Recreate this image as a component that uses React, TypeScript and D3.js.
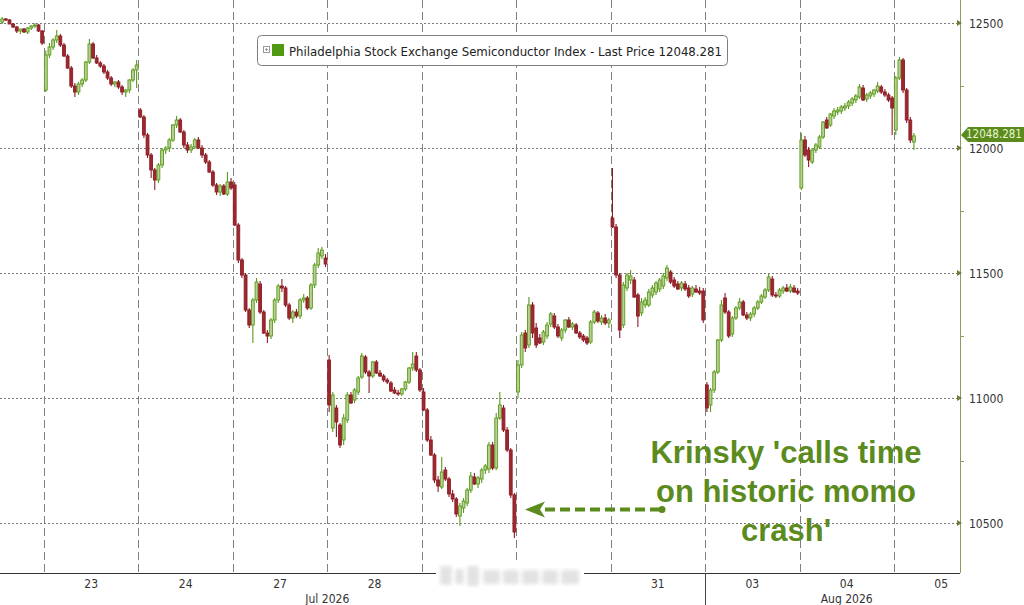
import { useRef, useEffect } from 'react';
import * as d3 from 'd3';

// open, high, low, close (15-minute bars)
type Bar = [number, number, number, number];

const jul22: Bar[] = [
  [12504, 12524, 12496, 12516], [12516, 12520, 12508, 12512], [12512, 12516, 12496, 12496],
  [12496, 12500, 12480, 12484], [12484, 12488, 12460, 12468], [12468, 12476, 12456, 12476],
  [12476, 12480, 12460, 12464], [12464, 12484, 12456, 12480], [12480, 12492, 12472, 12488],
  [12488, 12500, 12480, 12492], [12492, 12496, 12464, 12468], [12468, 12472, 12412, 12420],
];
const jul23: Bar[] = [
  [12232, 12390, 12224, 12372], [12372, 12420, 12360, 12404], [12404, 12440, 12392, 12432],
  [12432, 12472, 12420, 12448], [12448, 12456, 12404, 12412], [12412, 12420, 12364, 12368],
  [12368, 12376, 12316, 12320], [12320, 12328, 12240, 12248], [12248, 12260, 12204, 12224],
  [12224, 12264, 12212, 12256], [12256, 12280, 12244, 12272], [12272, 12348, 12264, 12344],
  [12344, 12436, 12336, 12416], [12416, 12424, 12356, 12360], [12360, 12372, 12336, 12340],
  [12340, 12348, 12320, 12328], [12328, 12336, 12296, 12304], [12304, 12312, 12272, 12280],
  [12280, 12288, 12248, 12256], [12256, 12268, 12244, 12264], [12264, 12272, 12236, 12244],
  [12244, 12252, 12212, 12224], [12224, 12236, 12204, 12232], [12232, 12276, 12220, 12272],
  [12272, 12320, 12264, 12312], [12312, 12352, 12240, 12332],
];
const jul24: Bar[] = [
  [12152, 12160, 12120, 12124], [12124, 12132, 12040, 12052], [12052, 12060, 11960, 11972],
  [11972, 11980, 11880, 11912], [11912, 11920, 11832, 11872], [11872, 11940, 11860, 11932],
  [11932, 12000, 11920, 11992], [11992, 12008, 11976, 12000], [12000, 12040, 11984, 12032],
  [12032, 12096, 12024, 12092], [12092, 12128, 12080, 12112], [12112, 12120, 12060, 12064],
  [12064, 12072, 12000, 12012], [12012, 12024, 11980, 11992], [11992, 12016, 11980, 12004],
  [12004, 12040, 11996, 12032], [12032, 12044, 11996, 12000], [12000, 12012, 11960, 11972],
  [11972, 11980, 11936, 11944], [11944, 11952, 11900, 11904], [11904, 11912, 11844, 11852],
  [11852, 11860, 11812, 11824], [11824, 11856, 11808, 11848], [11848, 11856, 11812, 11816],
  [11816, 11904, 11808, 11864], [11864, 11880, 11832, 11840],
];
const jul27: Bar[] = [
  [11852, 11864, 11688, 11692], [11692, 11700, 11540, 11552], [11552, 11560, 11480, 11492],
  [11492, 11500, 11344, 11352], [11352, 11360, 11280, 11292], [11292, 11400, 11220, 11392],
  [11392, 11480, 11380, 11464], [11456, 11468, 11336, 11344], [11344, 11352, 11256, 11260],
  [11260, 11272, 11220, 11248], [11248, 11320, 11236, 11312], [11312, 11400, 11300, 11392],
  [11392, 11456, 11380, 11448], [11448, 11476, 11424, 11440], [11440, 11448, 11364, 11372],
  [11372, 11380, 11312, 11320], [11320, 11352, 11300, 11344], [11344, 11356, 11320, 11328],
  [11328, 11400, 11316, 11392], [11392, 11416, 11380, 11400], [11400, 11408, 11352, 11360],
  [11360, 11460, 11352, 11452], [11452, 11540, 11440, 11532], [11532, 11600, 11520, 11580],
  [11568, 11604, 11556, 11592], [11560, 11576, 11524, 11536],
];
const jul28: Bar[] = [
  [11152, 11172, 10944, 10972], [10880, 11024, 10864, 11012], [10960, 10972, 10844, 10904],
  [10892, 10900, 10800, 10812], [10832, 10936, 10812, 10920], [10912, 11024, 10900, 11012],
  [11012, 11024, 10976, 10980], [10992, 11040, 10980, 11032], [11024, 11088, 11012, 11080],
  [11084, 11180, 11076, 11168], [11164, 11172, 11096, 11104], [11104, 11112, 11020, 11088],
  [11088, 11148, 11080, 11144], [11144, 11152, 11096, 11100], [11100, 11112, 11084, 11088],
  [11088, 11096, 11064, 11072], [11072, 11080, 11056, 11064], [11060, 11068, 11024, 11028],
  [11032, 11044, 11016, 11020], [11020, 11032, 11008, 11016], [11016, 11040, 11008, 11036],
  [11036, 11068, 11028, 11064], [11064, 11124, 11056, 11120], [11120, 11184, 11108, 11136],
  [11168, 11184, 11104, 11112], [11112, 11120, 11024, 11032],
];
const jul29: Bar[] = [
  [11024, 11040, 10948, 10952], [10952, 10960, 10824, 10832], [10832, 10848, 10768, 10772],
  [10772, 10780, 10660, 10672], [10672, 10688, 10624, 10648], [10644, 10764, 10636, 10704],
  [10712, 10724, 10668, 10676], [10676, 10684, 10604, 10616], [10616, 10632, 10584, 10596],
  [10596, 10604, 10524, 10536], [10528, 10580, 10488, 10568], [10560, 10600, 10540, 10588],
  [10580, 10640, 10568, 10632], [10632, 10704, 10620, 10688], [10684, 10700, 10652, 10656],
  [10656, 10688, 10640, 10680], [10676, 10720, 10660, 10712], [10712, 10736, 10696, 10728],
  [10716, 10824, 10700, 10812], [10812, 10824, 10712, 10720], [10720, 10940, 10712, 10920],
  [10920, 11024, 10912, 10972], [10960, 10972, 10864, 10872], [10872, 10884, 10784, 10792],
  [10792, 10800, 10600, 10612], [10612, 10620, 10440, 10464],
];
const jul30: Bar[] = [
  [11024, 11152, 11000, 11132], [11132, 11264, 11120, 11252], [11260, 11272, 11184, 11200],
  [11212, 11404, 11200, 11372], [11372, 11384, 11240, 11260], [11280, 11300, 11200, 11212],
  [11240, 11256, 11216, 11220], [11224, 11272, 11212, 11264], [11248, 11304, 11236, 11292],
  [11296, 11344, 11284, 11336], [11328, 11340, 11276, 11284], [11284, 11296, 11240, 11248],
  [11240, 11280, 11228, 11272], [11272, 11316, 11260, 11312], [11312, 11324, 11280, 11284],
  [11284, 11304, 11272, 11296], [11292, 11300, 11256, 11260], [11260, 11268, 11236, 11244],
  [11248, 11256, 11224, 11232], [11240, 11248, 11212, 11220], [11224, 11312, 11216, 11304],
  [11304, 11352, 11296, 11344], [11340, 11348, 11300, 11308], [11304, 11332, 11292, 11320],
  [11320, 11336, 11292, 11300], [11300, 11320, 11280, 11312],
];
const jul31: Bar[] = [
  [11720, 11920, 11680, 11684], [11684, 11696, 11480, 11492], [11492, 11500, 11240, 11272],
  [11292, 11464, 11280, 11452], [11440, 11500, 11428, 11492], [11472, 11512, 11456, 11488],
  [11472, 11484, 11400, 11404], [11412, 11420, 11284, 11328], [11340, 11400, 11328, 11384],
  [11372, 11404, 11360, 11392], [11372, 11436, 11364, 11424], [11412, 11452, 11400, 11440],
  [11424, 11468, 11412, 11460], [11436, 11480, 11424, 11472], [11448, 11500, 11436, 11488],
  [11480, 11532, 11468, 11520], [11504, 11512, 11456, 11464], [11472, 11484, 11440, 11448],
  [11456, 11468, 11432, 11436], [11440, 11468, 11428, 11460], [11456, 11468, 11428, 11436],
  [11440, 11452, 11400, 11408], [11416, 11448, 11404, 11440], [11436, 11452, 11420, 11424],
  [11428, 11444, 11412, 11420], [11428, 11440, 11300, 11312],
];
const aug03: Bar[] = [
  [11052, 11064, 10944, 10960], [10972, 11040, 10944, 11032], [11032, 11112, 11020, 11104],
  [11104, 11236, 11096, 11232], [11232, 11392, 11224, 11372], [11400, 11420, 11336, 11344],
  [11344, 11352, 11240, 11248], [11256, 11328, 11244, 11320], [11320, 11368, 11312, 11360],
  [11360, 11400, 11352, 11384], [11384, 11392, 11328, 11332], [11332, 11344, 11312, 11320],
  [11320, 11344, 11308, 11336], [11336, 11368, 11324, 11360], [11360, 11392, 11352, 11384],
  [11384, 11416, 11376, 11408], [11404, 11440, 11396, 11432], [11432, 11496, 11424, 11484],
  [11476, 11488, 11404, 11412], [11412, 11424, 11400, 11408], [11408, 11440, 11400, 11432],
  [11428, 11448, 11416, 11440], [11440, 11456, 11424, 11428], [11428, 11456, 11420, 11444],
  [11440, 11452, 11420, 11424], [11428, 11440, 11412, 11420],
];
const aug04: Bar[] = [
  [11840, 12060, 11832, 12032], [12032, 12048, 11964, 11972], [11992, 12004, 11924, 11952],
  [11944, 12000, 11936, 11992], [11992, 12020, 11980, 12012], [12004, 12052, 11996, 12044],
  [12044, 12108, 12036, 12104], [12112, 12124, 12076, 12080], [12092, 12140, 12084, 12136],
  [12128, 12160, 12116, 12148], [12144, 12164, 12132, 12152], [12148, 12172, 12136, 12164],
  [12160, 12180, 12148, 12168], [12168, 12192, 12156, 12184], [12180, 12204, 12168, 12196],
  [12192, 12216, 12180, 12208], [12204, 12256, 12196, 12244], [12240, 12252, 12188, 12192],
  [12196, 12220, 12184, 12212], [12208, 12228, 12196, 12220], [12216, 12236, 12204, 12232],
  [12228, 12264, 12220, 12248], [12244, 12252, 12216, 12224], [12224, 12236, 12204, 12212],
  [12212, 12220, 12184, 12192], [12200, 12208, 12052, 12160],
];
const aug05: Bar[] = [
  [12072, 12288, 12052, 12280], [12280, 12364, 12272, 12352], [12352, 12360, 12220, 12232],
  [12232, 12240, 12100, 12112], [12112, 12124, 12020, 12032], [12024, 12060, 11992, 12048.281],
];

// first bar of jul22 is the 15th bar of that session (earlier ones are off the chart)
const sessions = [
  { label: '22', bars: jul22, firstSlot: 14 },
  { label: '23', bars: jul23, firstSlot: 0 },
  { label: '24', bars: jul24, firstSlot: 0 },
  { label: '27', bars: jul27, firstSlot: 0 },
  { label: '28', bars: jul28, firstSlot: 0 },
  { label: '29', bars: jul29, firstSlot: 0 },
  { label: '30', bars: jul30, firstSlot: 0 },
  { label: '31', bars: jul31, firstSlot: 0 },
  { label: '03', bars: aug03, firstSlot: 0 },
  { label: '04', bars: aug04, firstSlot: 0 },
  { label: '05', bars: aug05, firstSlot: 0 },
];
const SLOTS = 26;

const yTicks = [10500, 11000, 11500, 12000, 12500];
const yMinorTicks = [10750, 11250, 11750, 12250];
const hiddenDayLabels = ['22', '29', '30']; // off-chart or under the watermark
const months = [
  { label: 'Jul 2026', session: 4, at: 0 },
  { label: 'Aug 2026', session: 9, at: 0.5 },
];
const monthBreak = 8; // Aug starts with session 03
const lastPrice = 12048.281;
const seriesName = 'Philadelphia Stock Exchange Semiconductor Index - Last Price';
const noteLines = ["Krinsky 'calls time", 'on historic momo', "crash'"];

const FONT = "'DejaVu Sans Condensed', 'DejaVu Sans', sans-serif";
const GREEN = '#5b8b1d';

const App = () => {
  const svgRef = useRef<SVGSVGElement>(null);

  useEffect(() => {
    const svg = d3.select(svgRef.current);
    svg.selectAll('*').remove();

    const plotRight = 960;
    const axisY = 573;

    const x = d3
      .scaleLinear()
      .domain([0, SLOTS * sessions.length])
      .range([-50.44, 988.4]);
    const y = d3.scaleLinear().domain([10500, 12500]).range([523, 23]);
    const step = x(1) - x(0);

    svg.append('rect').attr('width', 1024).attr('height', 605).attr('fill', '#fff');

    // horizontal dotted grid
    svg
      .append('g')
      .selectAll('line')
      .data(yTicks)
      .join('line')
      .attr('x1', 0)
      .attr('x2', plotRight - 3)
      .attr('y1', (d) => Math.round(y(d)) + 0.5)
      .attr('y2', (d) => Math.round(y(d)) + 0.5)
      .attr('stroke', '#7a7a7a')
      .attr('stroke-dasharray', '2,2');

    // vertical dashed day separators
    const boundaries = d3.range(1, sessions.length);
    svg
      .append('g')
      .selectAll('line')
      .data(boundaries)
      .join('line')
      .attr('x1', (d) => Math.round(x(d * SLOTS)) + 0.5)
      .attr('x2', (d) => Math.round(x(d * SLOTS)) + 0.5)
      .attr('y1', 0)
      .attr('y2', axisY)
      .attr('stroke', '#808080')
      .attr('stroke-dasharray', '8,4');

    // candles
    const candles = sessions.flatMap((s, d) =>
      s.bars.map((b, i) => ({ slot: d * SLOTS + s.firstSlot + i, o: b[0], h: b[1], l: b[2], c: b[3] }))
    );
    const bw = step * 0.78;
    const cg = svg.append('g');
    const up = (d: { o: number; c: number }) => d.c >= d.o;
    cg.selectAll('line')
      .data(candles)
      .join('line')
      .attr('x1', (d) => x(d.slot + 0.5))
      .attr('x2', (d) => x(d.slot + 0.5))
      .attr('y1', (d) => y(d.h))
      .attr('y2', (d) => y(d.l))
      .attr('stroke', (d) => (up(d) ? '#5a9a1a' : '#8c1c24'))
      .attr('stroke-width', 1.1);
    cg.selectAll('rect')
      .data(candles)
      .join('rect')
      .attr('x', (d) => x(d.slot + 0.5) - bw / 2)
      .attr('width', bw)
      .attr('y', (d) => y(Math.max(d.o, d.c)))
      .attr('height', (d) => Math.max(1, Math.abs(y(d.o) - y(d.c))))
      .attr('fill', (d) => (up(d) ? '#b8cf94' : '#9e2830'))
      .attr('stroke', (d) => (up(d) ? '#5a9a1a' : '#8c1c24'))
      .attr('stroke-width', 0.9);

    // bottom axis
    svg
      .append('line')
      .attr('x1', 0)
      .attr('x2', plotRight)
      .attr('y1', axisY + 0.5)
      .attr('y2', axisY + 0.5)
      .attr('stroke', '#333');
    const mx = Math.round(x(monthBreak * SLOTS)) + 0.5;
    svg
      .append('line')
      .attr('x1', mx)
      .attr('x2', mx)
      .attr('y1', axisY)
      .attr('y2', 605)
      .attr('stroke', '#444');

    svg
      .append('g')
      .selectAll('text')
      .data(sessions.map((s, d) => ({ ...s, d })).filter((s) => !hiddenDayLabels.includes(s.label)))
      .join('text')
      .attr('x', (s) => x(s.d * SLOTS + SLOTS / 2))
      .attr('y', 588)
      .attr('text-anchor', 'middle')
      .attr('font-family', FONT)
      .attr('font-size', 12)
      .attr('fill', '#333')
      .text((s) => s.label);

    svg
      .append('g')
      .selectAll('text')
      .data(months)
      .join('text')
      .attr('x', (m) => x((m.session + m.at) * SLOTS))
      .attr('y', 603)
      .attr('text-anchor', 'middle')
      .attr('font-family', FONT)
      .attr('font-size', 12)
      .attr('fill', '#333')
      .text((m) => m.label);

    // right axis
    svg
      .append('line')
      .attr('x1', plotRight + 0.5)
      .attr('x2', plotRight + 0.5)
      .attr('y1', 0)
      .attr('y2', axisY)
      .attr('stroke', '#8d9a62');
    const ra = svg.append('g');
    ra.selectAll('path')
      .data(yTicks)
      .join('path')
      .attr('d', (d) => `M${plotRight - 3},${y(d) - 3}L${plotRight + 2},${y(d)}L${plotRight - 3},${y(d) + 3}Z`)
      .attr('fill', '#6f7f3a');
    ra.selectAll('line')
      .data(yMinorTicks)
      .join('line')
      .attr('x1', plotRight)
      .attr('x2', plotRight + 4)
      .attr('y1', (d) => Math.round(y(d)) + 0.5)
      .attr('y2', (d) => Math.round(y(d)) + 0.5)
      .attr('stroke', '#8d9a62');
    ra.selectAll('text')
      .data(yTicks)
      .join('text')
      .attr('x', 969)
      .attr('y', (d) => y(d) + 5)
      .attr('font-family', FONT)
      .attr('font-size', 12)
      .attr('fill', '#333')
      .text((d) => String(d));

    // last price tag
    const ly = y(lastPrice) - 1;
    svg
      .append('path')
      .attr('d', `M${plotRight + 1},${ly}L${plotRight + 8},${ly - 8}L1024,${ly - 8}L1024,${ly + 7}L${plotRight + 8},${ly + 7}Z`)
      .attr('fill', GREEN);
    svg
      .append('text')
      .attr('x', plotRight + 6)
      .attr('y', ly + 3.5)
      .attr('font-family', FONT)
      .attr('font-size', 11.5)
      .attr('fill', '#eaf6d2')
      .text(lastPrice.toFixed(3));

    // legend
    const lg = svg.append('g');
    lg.append('rect')
      .attr('x', 257.5)
      .attr('y', 35.5)
      .attr('width', 470)
      .attr('height', 30)
      .attr('rx', 4)
      .attr('fill', '#fff')
      .attr('stroke', '#7d7d7d');
    lg.append('rect')
      .attr('x', 263.5)
      .attr('y', 46.5)
      .attr('width', 6)
      .attr('height', 6)
      .attr('fill', 'none')
      .attr('stroke', '#999');
    lg.append('path').attr('d', 'M265,49.5h3M266.5,48v3').attr('stroke', '#999');
    lg.append('rect').attr('x', 272).attr('y', 44).attr('width', 12).attr('height', 12).attr('fill', '#4f9a12');
    lg.append('text')
      .attr('x', 289)
      .attr('y', 55.5)
      .attr('font-family', FONT)
      .attr('font-size', 13)
      .attr('fill', '#222')
      .attr('textLength', 433)
      .attr('lengthAdjust', 'spacingAndGlyphs')
      .text(`${seriesName} ${lastPrice.toFixed(3)}`);

    // annotation
    const ng = svg.append('g');
    ng.selectAll('text')
      .data(noteLines)
      .join('text')
      .attr('x', 786)
      .attr('y', (_, i) => 463 + i * 39)
      .attr('text-anchor', 'middle')
      .attr('font-family', "'Liberation Sans', Arial, sans-serif")
      .attr('font-weight', 'bold')
      .attr('font-size', 31)
      .attr('fill', GREEN)
      .text((d) => d);
    const arrowY = y(10550) - 1;
    ng.append('line')
      .attr('x1', 660)
      .attr('x2', 540)
      .attr('y1', arrowY)
      .attr('y2', arrowY)
      .attr('stroke', GREEN)
      .attr('stroke-width', 4)
      .attr('stroke-dasharray', '10,5');
    ng.append('circle').attr('cx', 662).attr('cy', arrowY).attr('r', 3.5).attr('fill', GREEN);
    ng.append('path')
      .attr('d', `M525,${arrowY}L545,${arrowY - 8}L540,${arrowY}L545,${arrowY + 8}Z`)
      .attr('fill', GREEN);

    // blurred watermark over the axis
    const defs = svg.append('defs');
    defs.append('filter').attr('id', 'wm').append('feGaussianBlur').attr('stdDeviation', 2);
    const wm = svg.append('g');
    wm.append('rect').attr('x', 436).attr('y', 561).attr('width', 148).attr('height', 28).attr('fill', '#fff');
    const blocks = [
      [440, 566, 12, 19], [455, 569, 9, 15], [467, 566, 12, 20], [483, 570, 17, 14],
      [503, 570, 16, 14], [522, 570, 17, 14], [542, 570, 16, 14], [561, 570, 18, 14],
    ];
    wm.selectAll('rect.b')
      .data(blocks)
      .join('rect')
      .attr('class', 'b')
      .attr('x', (b) => b[0])
      .attr('y', (b) => b[1])
      .attr('width', (b) => b[2])
      .attr('height', (b) => b[3])
      .attr('rx', 2)
      .attr('fill', '#e2e2e2')
      .attr('filter', 'url(#wm)');
  }, []);

  return (
    <svg
      ref={svgRef}
      width={1024}
      height={605}
      style={{ position: 'absolute', left: 0, top: 0, display: 'block' }}
    />
  );
};

export default App;
